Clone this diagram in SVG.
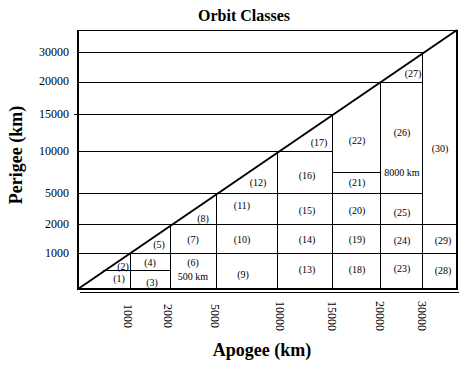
<svg xmlns="http://www.w3.org/2000/svg" width="461" height="365" viewBox="0 0 461 365">
<style>
.g{stroke:#000;stroke-width:1;fill:none}
.t{stroke:#000;stroke-width:2;fill:none}
.l{font-family:"Liberation Serif",serif;font-size:10px;text-anchor:middle;fill:#000}
.k{font-family:"Liberation Serif",serif;font-size:12px;fill:#000}
.h{font-family:"Liberation Serif",serif;font-weight:bold;fill:#000;text-anchor:middle}
</style>
<rect width="461" height="365" fill="#fff"/>
<text class="h" x="244" y="21" font-size="16">Orbit Classes</text>
<g id="connectors">
<path class="g" d="M77 30.5H457 M77 52.5H422 M77 82.5H422 M77 114.5H332 M74 114.5H77 M77 151.5H332 M77 193.5H422 M77 224.5H457 M77 253.5H457 M103 270.5H170 M332 172.5H380"/>
<path class="g" d="M130.5 253V289 M170.5 224V289 M216.5 193V289 M277.5 151V289 M332.5 114V289 M380.5 82V289 M422.5 52V289"/>
<path class="t" d="M78 30V290 M457 30V290 M77 289H458"/>
<path class="g" d="M80 292.5H459"/>
<path class="t" d="M78 289L457 30"/>
</g>
<g id="yaxis" class="k" text-anchor="end">
<text x="69" y="56">30000</text>
<text x="69" y="85">20000</text>
<text x="69" y="118">15000</text>
<text x="69" y="155">10000</text>
<text x="69" y="197">5000</text>
<text x="69" y="228">2000</text>
<text x="69" y="257">1000</text>
</g>
<g id="xaxis" class="k" text-anchor="middle">
<text transform="translate(124,316) rotate(90)">1000</text>
<text transform="translate(164,316) rotate(90)">2000</text>
<text transform="translate(211,316) rotate(90)">5000</text>
<text transform="translate(276,316) rotate(90)">10000</text>
<text transform="translate(328,316) rotate(90)">15000</text>
<text transform="translate(376,316) rotate(90)">20000</text>
<text transform="translate(418,316) rotate(90)">30000</text>
</g>
<text class="h" x="262" y="356" font-size="18">Apogee (km)</text>
<text class="h" font-size="18" transform="translate(22,155) rotate(-90)">Perigee (km)</text>
<g id="labels" class="l">
<text x="119" y="282">(1)</text>
<text x="123" y="270">(2)</text>
<text x="152" y="286">(3)</text>
<text x="150" y="266">(4)</text>
<text x="159" y="248">(5)</text>
<text x="193" y="266">(6)</text>
<text x="193" y="280">500 km</text>
<text x="193" y="243">(7)</text>
<text x="203" y="222">(8)</text>
<text x="243" y="278">(9)</text>
<text x="242" y="243">(10)</text>
<text x="242" y="209">(11)</text>
<text x="258" y="186">(12)</text>
<text x="307" y="273">(13)</text>
<text x="307" y="243">(14)</text>
<text x="307" y="214">(15)</text>
<text x="307" y="179">(16)</text>
<text x="319" y="146">(17)</text>
<text x="357" y="273">(18)</text>
<text x="357" y="243">(19)</text>
<text x="357" y="214">(20)</text>
<text x="357" y="186">(21)</text>
<text x="357" y="144">(22)</text>
<text x="402" y="272">(23)</text>
<text x="402" y="244">(24)</text>
<text x="402" y="216">(25)</text>
<text x="402" y="136">(26)</text>
<text x="413" y="77">(27)</text>
<text x="402" y="176">8000 km</text>
<text x="443" y="274">(28)</text>
<text x="443" y="244">(29)</text>
<text x="440" y="152">(30)</text>
</g>
</svg>
